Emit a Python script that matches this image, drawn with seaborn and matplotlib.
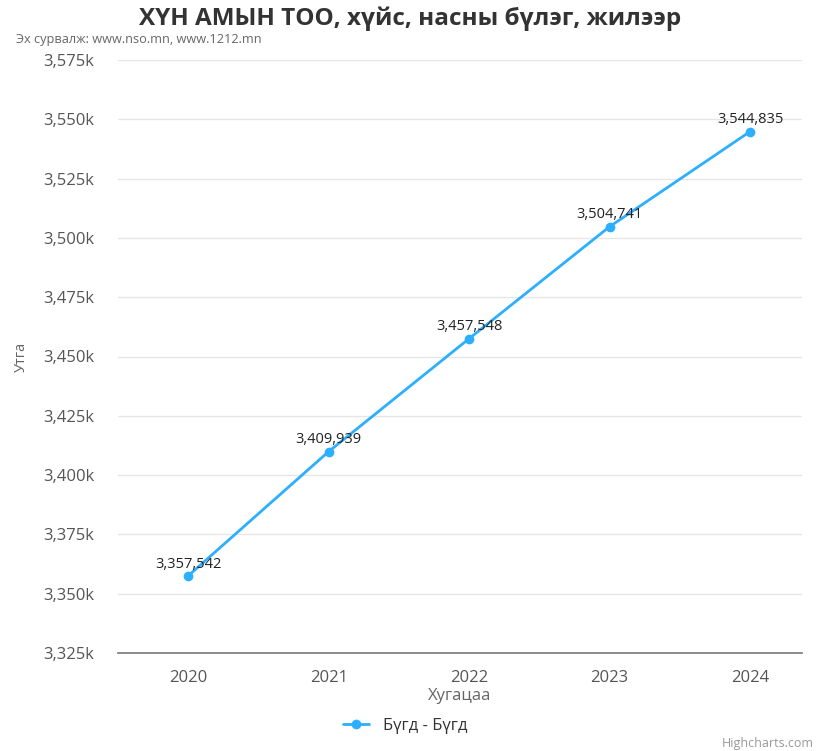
import matplotlib
matplotlib.use("Agg")
import matplotlib.pyplot as plt
import seaborn as sns
import pandas as pd
from matplotlib.ticker import FuncFormatter, FixedLocator
from matplotlib.lines import Line2D

years = ["2020", "2021", "2022", "2023", "2024"]
values = [3357542, 3409939, 3457548, 3504741, 3544835]
series_name = "Бүгд - Бүгд"
title = "ХҮН АМЫН ТОО, хүйс, насны бүлэг, жилээр"
subtitle = "Эх сурвалж: www.nso.mn, www.1212.mn"
y_ticks = [3325000, 3350000, 3375000, 3400000, 3425000, 3450000, 3475000, 3500000, 3525000, 3550000, 3575000]

sns.set_theme(style="white")
plt.rcParams['font.family'] = ['Open Sans', 'DejaVu Sans']

df = pd.DataFrame({"year": years, "value": values})
df["x"] = range(len(years))

fig = plt.figure(figsize=(8.16, 7.51), dpi=100)
ax = fig.add_axes([118/816, 1 - 653/751, (802-118)/816, (653-60)/751])

color = "#2caffe"
sns.lineplot(data=df, x="x", y="value", ax=ax, color=color, linewidth=2,
             marker="o", markersize=7, markeredgewidth=0, legend=False)

ax.set_xlim(-0.5, 4.37)
ax.set_ylim(y_ticks[0], y_ticks[-1])
ax.xaxis.set_major_locator(FixedLocator(list(range(len(years)))))
ax.set_xticklabels(years)
ax.yaxis.set_major_locator(FixedLocator(y_ticks))
ax.yaxis.set_major_formatter(FuncFormatter(lambda v, p: f"{v/1000:,.0f}k"))
ax.grid(axis="y", color="#e6e6e6", linewidth=1)
ax.set_axisbelow(True)
for s in ["top", "right", "left"]:
    ax.spines[s].set_visible(False)
ax.spines["bottom"].set_color("#777777")
ax.spines["bottom"].set_linewidth(1.2)
ax.tick_params(axis="both", length=0, colors="#555555", labelsize=12)
ax.tick_params(axis="y", pad=17)
ax.tick_params(axis="x", pad=12)

for xi, v in zip(df["x"], values):
    ax.annotate(f"{v:,}", (xi, v), xytext=(0, 3), textcoords="offset points",
                ha="center", va="bottom", fontsize=10.5, color="#222222")

ax.set_xlabel("Хугацаа", color="#666666", fontsize=12, labelpad=2)
ax.set_ylabel("Утга", color="#666666", fontsize=10.5)
ax.yaxis.set_label_coords(-0.13, 0.5)

fig.text(410/816, 1 - 19/751, title, ha="center", va="center", fontsize=17.5,
         fontweight="bold", color="#333333")
fig.text(16/816, 1 - 39/751, subtitle, ha="left", va="center", fontsize=9.2, color="#666666")

handle = Line2D([0], [0], color=color, linewidth=2, marker="o", markersize=7, markeredgewidth=0)
fig.legend([handle], [series_name], loc="center", bbox_to_anchor=(405/816, 1 - 726/751),
           frameon=False, fontsize=12, handlelength=1.6, labelcolor="#333333")

fig.text(814/816, 1 - 744/751, "Highcharts.com", ha="right", va="center", fontsize=9, color="#999999")

fig.savefig("out.png", dpi=100)
